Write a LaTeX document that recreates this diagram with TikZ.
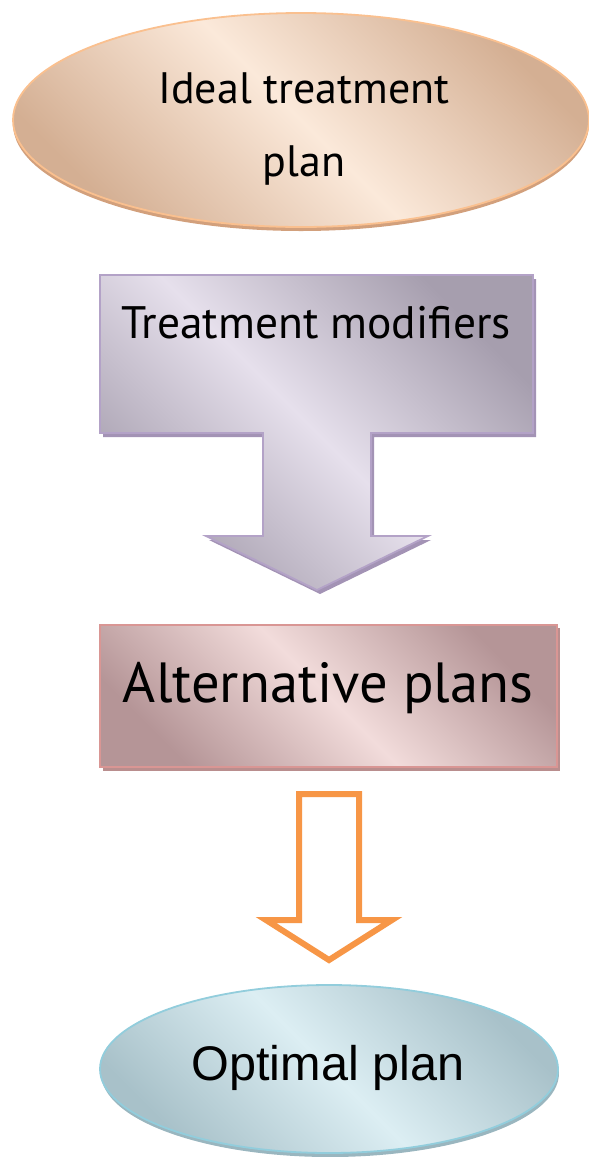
\documentclass[tikz,border=0pt]{standalone}
\usepackage{fontspec}
\setmainfont{PT Sans}
\newfontfamily\arialfont{Liberation Sans}
\usetikzlibrary{shapes.geometric}
\definecolor{peachD}{HTML}{D4AF93}
\definecolor{peachL}{HTML}{FBE9DA}
\definecolor{peachB}{HTML}{FAC08F}
\definecolor{peachS}{HTML}{D2A07C}
\definecolor{lilacD}{HTML}{A69EAE}
\definecolor{lilacL}{HTML}{E6E0EC}
\definecolor{lilacB}{HTML}{B3A2C7}
\definecolor{lilacS}{HTML}{A393B5}
\definecolor{roseD}{HTML}{B59597}
\definecolor{roseL}{HTML}{F2DCDB}
\definecolor{roseB}{HTML}{D99694}
\definecolor{roseS}{HTML}{B98E8E}
\definecolor{aquaD}{HTML}{A8C1C9}
\definecolor{aquaL}{HTML}{DCEEF3}
\definecolor{aquaB}{HTML}{92CDDC}
\definecolor{aquaS}{HTML}{9AB6BF}
\definecolor{orangeA}{HTML}{F79646}
\tikzset{
  grad/.style n args={3}{left color=#1, right color=#3, middle color=#2, shading angle=-45},
  oval/.style={ellipse, inner sep=0pt, line width=1.8pt},
  lbl/.style={anchor=base, inner sep=0pt, text=black},
  modshape/.style={insert path={(100,275) -- (533,275) -- (533,433) -- (371,433) -- (371,536) -- (428,536) -- (317,590) -- (206,536) -- (263,536) -- (263,433) -- (100,433) -- cycle}},
}
\begin{document}
\begin{tikzpicture}[x=1pt,y=-1pt]
\useasboundingbox (0,0) rectangle (589,1157);
% top ellipse
\fill[peachS] (301,124) ellipse [x radius=288, y radius=107];
\node[oval, minimum width=576pt, minimum height=214pt, draw=peachB, grad={peachD}{peachL}{peachD}] (ideal) at (301,120) {};
\node[lbl, font=\fontsize{44}{50}\selectfont] (idealA) at (304,103) {Ideal treatment};
\node[lbl, font=\fontsize{44}{50}\selectfont] (idealB) at (304,176) {plan};
% treatment modifiers block arrow
\fill[lilacS, shift={(3,4)}, modshape];
\path[draw=lilacB, line width=1.8pt, grad={lilacD}{lilacL}{lilacD}, modshape];
\node[lbl, font=\fontsize{45.5}{50}\selectfont] (mods) at (316,338) {Treatment modifiers};
% alternative plans box
\fill[roseS] (103,628) rectangle (560,771);
\node[draw=roseB, line width=1.8pt, minimum width=457pt, minimum height=142pt, inner sep=0pt, grad={roseD}{roseL}{roseD}] (alt) at (328.5,696) {};
\node[lbl, font=\fontsize{56.6}{60}\selectfont] (altT) at (328,702) {Alternative plans};
% orange hollow arrow
\draw[orangeA, line width=6pt, fill=white, miter limit=10] (299,794) -- (359,794) -- (359,920) -- (392,920) -- (329,960) -- (266,920) -- (299,920) -- cycle;
% optimal plan ellipse
\fill[aquaS] (330,1073) ellipse [x radius=229, y radius=84];
\node[oval, minimum width=458pt, minimum height=168pt, draw=aquaB, grad={aquaD}{aquaL}{aquaD}] (opt) at (329,1069) {};
\node[lbl, font=\arialfont\fontsize{48.6}{55}\selectfont] (optT) at (328,1080) {Optimal plan};
\end{tikzpicture}
\end{document}
